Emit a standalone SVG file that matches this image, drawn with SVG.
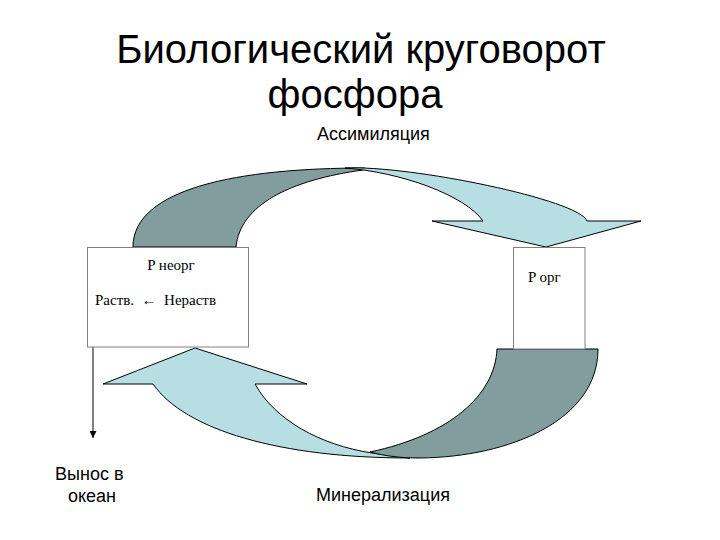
<svg xmlns="http://www.w3.org/2000/svg" width="720" height="540" viewBox="0 0 720 540">
<defs>
<style>
.dark{fill:#819D9D;stroke:#000;stroke-width:1}
.light{fill:#B7DEE2;stroke:#000;stroke-width:1}
.box{fill:#fff;stroke:#808080;stroke-width:1}
.title{font-family:"Liberation Sans",Arial,sans-serif;font-size:40px;fill:#000}
.lbl{font-family:"Liberation Sans",Arial,sans-serif;font-size:18px;fill:#000}
.ser{font-family:"Liberation Serif","Times New Roman",serif;font-size:15px;fill:#000}
</style>
<marker id="ah" viewBox="0 0 10 10" refX="10" refY="5" markerWidth="7" markerHeight="7" markerUnits="userSpaceOnUse" orient="auto">
<path d="M0,0 L10,5 L0,10 Z" fill="#000"/>
</marker>
</defs>
<rect width="720" height="540" fill="#fff"/>
<g id="title">
<text class="title" x="361" y="63" text-anchor="middle">Биологический круговорот</text>
<text class="title" x="355" y="108" text-anchor="middle">фосфора</text>
</g>
<g id="connectors">
<g id="assimilation-arrow">
<path class="dark" d="M133,247 C133,188 240,168 365,168 L363,170 C290,180 240,205 236,247 Z"/>
<path class="light" d="M345,168 C410,165 580,200 587,221 L641,221 L546,247 L432,221 L483,221 C465,195 400,172 345,168 Z"/>
</g>
<g id="mineralization-arrow">
<path class="light" d="M195,348 L307,384 L255,384 C275,420 320,445 372,453 L410,458 C280,458 185,430 153,384 L103,384 Z"/>
<path class="dark" d="M497,349 L598,349 C598,420 510,457 420,458 C400,458 385,456 370,452 C450,435 495,395 497,349 Z"/>
</g>
<line x1="93" y1="347" x2="93" y2="438" stroke="#000" stroke-width="1" marker-end="url(#ah)"/>
</g>
<g id="node-pneorg">
<rect class="box" x="87.5" y="247.5" width="161" height="99.5"/>
<text class="ser" x="171" y="270" text-anchor="middle">P неорг</text>
<text class="ser" x="95" y="305" xml:space="preserve">Раств.  ←  Нераств</text>
</g>
<g id="node-porg">
<rect class="box" x="513.5" y="247.5" width="71.5" height="101.5"/>
<text class="ser" x="528" y="282">P орг</text>
</g>
<g id="labels">
<text class="lbl" x="317" y="140">Ассимиляция</text>
<text class="lbl" x="316" y="501">Минерализация</text>
<text class="lbl" x="55" y="480">Вынос в</text>
<text class="lbl" x="68" y="502">океан</text>
</g>
</svg>
